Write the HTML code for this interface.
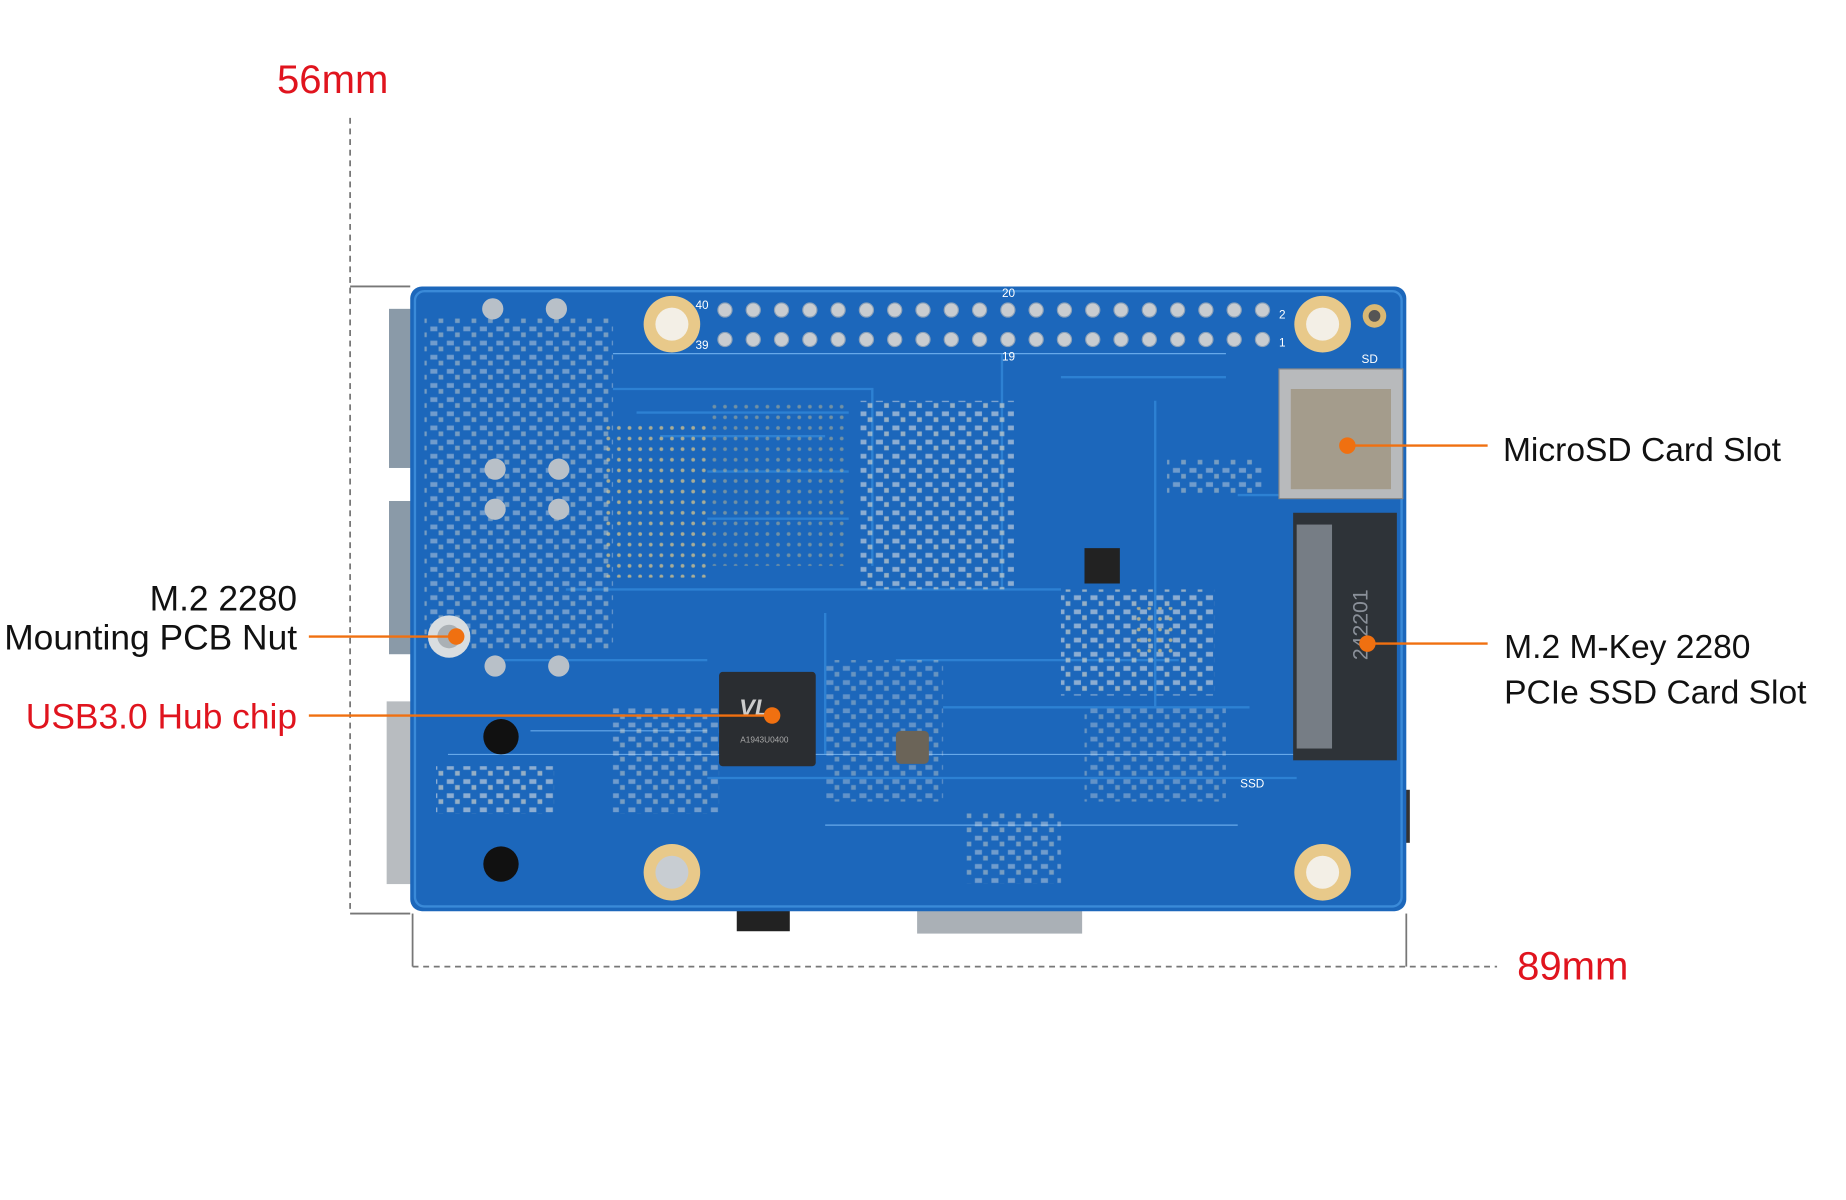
<!DOCTYPE html>
<html><head><meta charset="utf-8"><style>
html,body{margin:0;padding:0;background:#fff;width:1846px;height:1200px;overflow:hidden}
svg{display:block}
text{font-family:"Liberation Sans",Arial,sans-serif}
</style></head><body>
<svg width="1846" height="1200" viewBox="0 0 1566 1018" xmlns="http://www.w3.org/2000/svg">
<defs>
<pattern id="comp" width="14" height="12" patternUnits="userSpaceOnUse">
<rect x="1" y="1" width="6" height="4" fill="#d8dde2"/><rect x="8" y="6" width="4" height="4" fill="#e6e0cc"/>
</pattern>
<pattern id="dots" width="9" height="9" patternUnits="userSpaceOnUse">
<circle cx="3" cy="3" r="1.6" fill="#d9c58a"/>
</pattern>
</defs>
<rect width="1566" height="1018" fill="#fff"/>
<text x="235" y="79" font-size="34" fill="#e0141e">56mm</text>
<line x1="297" y1="100" x2="297" y2="775" stroke="#777" stroke-width="1.5" stroke-dasharray="5,4"/>
<line x1="297" y1="243" x2="348" y2="243" stroke="#777" stroke-width="1.5"/>
<line x1="297" y1="775" x2="348" y2="775" stroke="#777" stroke-width="1.5"/>
<line x1="350" y1="775" x2="350" y2="820" stroke="#777" stroke-width="1.5"/>
<line x1="1193" y1="775" x2="1193" y2="820" stroke="#777" stroke-width="1.5"/>
<line x1="350" y1="820" x2="1270" y2="820" stroke="#777" stroke-width="1.5" stroke-dasharray="5,4"/>
<text x="1287" y="831" font-size="34" fill="#e0141e">89mm</text>

<rect x="330" y="262" width="22" height="135" fill="#8a9aa8"/>
<rect x="330" y="425" width="22" height="130" fill="#8a9aa8"/>
<rect x="328" y="595" width="24" height="155" fill="#b8bcc0"/>
<rect x="625" y="770" width="45" height="20" fill="#222"/>
<rect x="778" y="770" width="140" height="22" fill="#aab0b6"/>
<rect x="1182" y="670" width="14" height="45" fill="#333"/>

<rect x="348" y="243" width="845" height="530" rx="10" fill="#1c67bb"/>
<rect x="352" y="247" width="837" height="522" rx="8" fill="none" stroke="#3a8ad8" stroke-width="2"/>
<g stroke="#2f84d6" stroke-width="2" fill="none" opacity="0.9">
<path d="M520 330 H740 V480 M540 350 H720 M560 370 H700 M600 400 H720 M600 440 H720 M480 500 H900 M700 520 V640 M760 560 H1000 M800 600 H1060 M600 660 H1100 M420 560 H600 M850 300 V500 M900 320 H1040 M980 340 V600 M1050 420 H1180"/>
<path d="M520 300 H1040 M700 700 H1050 M450 620 H600 M380 640 H1180" stroke="#6fb0ee" stroke-width="1"/>
</g>
<g opacity="0.75">
<rect x="510" y="360" width="90" height="130" fill="url(#dots)"/>
<rect x="600" y="340" width="120" height="140" fill="url(#dots)" opacity="0.6"/>
<rect x="730" y="340" width="130" height="160" fill="url(#comp)" opacity="0.8"/>
<rect x="900" y="500" width="130" height="90" fill="url(#comp)" opacity="0.8"/>
<rect x="960" y="515" width="40" height="40" fill="url(#dots)"/>
<rect x="360" y="270" width="160" height="280" fill="url(#comp)" opacity="0.6"/>
<rect x="370" y="650" width="100" height="40" fill="url(#comp)" opacity="0.8"/>
<rect x="520" y="600" width="90" height="90" fill="url(#comp)" opacity="0.6"/>
<rect x="700" y="560" width="100" height="120" fill="url(#comp)" opacity="0.5"/>
<rect x="820" y="690" width="80" height="60" fill="url(#comp)" opacity="0.6"/>
<rect x="920" y="600" width="120" height="80" fill="url(#comp)" opacity="0.5"/>
<rect x="990" y="390" width="80" height="30" fill="url(#comp)" opacity="0.6"/>
</g>
<g>
<circle cx="570" cy="275" r="24" fill="#e8c98a"/><circle cx="570" cy="275" r="14" fill="#f3efe6"/>
<circle cx="1122" cy="275" r="24" fill="#e8c98a"/><circle cx="1122" cy="275" r="14" fill="#f3efe6"/>
<circle cx="570" cy="740" r="24" fill="#e8c98a"/><circle cx="570" cy="740" r="14" fill="#c8cdd2"/>
<circle cx="1122" cy="740" r="24" fill="#e8c98a"/><circle cx="1122" cy="740" r="14" fill="#f3efe6"/>
<circle cx="1166" cy="268" r="10" fill="#d9b873"/><circle cx="1166" cy="268" r="5" fill="#555"/>
</g>
<g fill="#c8ccd0" stroke="#8aa0b8" stroke-width="1">
<circle cx="615" cy="263" r="6"/><circle cx="639" cy="263" r="6"/><circle cx="663" cy="263" r="6"/><circle cx="687" cy="263" r="6"/><circle cx="711" cy="263" r="6"/><circle cx="735" cy="263" r="6"/><circle cx="759" cy="263" r="6"/><circle cx="783" cy="263" r="6"/><circle cx="807" cy="263" r="6"/><circle cx="831" cy="263" r="6"/><circle cx="855" cy="263" r="6"/><circle cx="879" cy="263" r="6"/><circle cx="903" cy="263" r="6"/><circle cx="927" cy="263" r="6"/><circle cx="951" cy="263" r="6"/><circle cx="975" cy="263" r="6"/><circle cx="999" cy="263" r="6"/><circle cx="1023" cy="263" r="6"/><circle cx="1047" cy="263" r="6"/><circle cx="1071" cy="263" r="6"/>
<circle cx="615" cy="288" r="6"/><circle cx="639" cy="288" r="6"/><circle cx="663" cy="288" r="6"/><circle cx="687" cy="288" r="6"/><circle cx="711" cy="288" r="6"/><circle cx="735" cy="288" r="6"/><circle cx="759" cy="288" r="6"/><circle cx="783" cy="288" r="6"/><circle cx="807" cy="288" r="6"/><circle cx="831" cy="288" r="6"/><circle cx="855" cy="288" r="6"/><circle cx="879" cy="288" r="6"/><circle cx="903" cy="288" r="6"/><circle cx="927" cy="288" r="6"/><circle cx="951" cy="288" r="6"/><circle cx="975" cy="288" r="6"/><circle cx="999" cy="288" r="6"/><circle cx="1023" cy="288" r="6"/><circle cx="1047" cy="288" r="6"/><circle cx="1071" cy="288" r="6"/>
</g>
<g fill="#fff" font-size="10"><text x="590" y="262">40</text><text x="590" y="296">39</text><text x="850" y="252">20</text><text x="850" y="306">19</text><text x="1085" y="270">2</text><text x="1085" y="294">1</text><text x="1155" y="308">SD</text><text x="1052" y="668">SSD</text></g>
<g fill="#b8c0c8">
<circle cx="418" cy="262" r="9"/><circle cx="472" cy="262" r="9"/><circle cx="420" cy="398" r="9"/><circle cx="474" cy="398" r="9"/><circle cx="420" cy="432" r="9"/><circle cx="474" cy="432" r="9"/><circle cx="420" cy="565" r="9"/><circle cx="474" cy="565" r="9"/>
</g>
<circle cx="381" cy="540" r="18" fill="#d9dde0"/><circle cx="381" cy="540" r="10" fill="#aab0b5"/>
<circle cx="425" cy="625" r="15" fill="#111"/><circle cx="425" cy="733" r="15" fill="#111"/>
<rect x="610" y="570" width="82" height="80" rx="3" fill="#2a2d31"/>
<text x="627" y="607" font-size="20" font-weight="bold" fill="#ccc" font-style="italic">VL</text>
<text x="628" y="630" font-size="7" fill="#aaa">A1943U0400</text>
<rect x="760" y="620" width="28" height="28" rx="4" fill="#6b6458"/>
<rect x="920" y="465" width="30" height="30" fill="#222"/>
<rect x="1085" y="313" width="105" height="110" fill="#b8babc" stroke="#888"/>
<rect x="1095" y="330" width="85" height="85" fill="#a49c8c"/>
<rect x="1097" y="435" width="88" height="210" fill="#2e3338"/>
<rect x="1100" y="445" width="30" height="190" fill="#767d85"/>
<text x="1160" y="560" font-size="18" fill="#8a9099" transform="rotate(-90 1160 560)" font-family="Liberation Serif">242201</text>

<g stroke="#f07010" stroke-width="2">
<line x1="1143" y1="378" x2="1262" y2="378"/>
<line x1="1160" y1="546" x2="1262" y2="546"/>
<line x1="262" y1="540" x2="387" y2="540"/>
<line x1="262" y1="607" x2="655" y2="607"/>
</g>
<g fill="#f07010">
<circle cx="1143" cy="378" r="7"/><circle cx="1160" cy="546" r="7"/><circle cx="387" cy="540" r="7"/><circle cx="655" cy="607" r="7"/>
</g>
<g font-size="28.5" fill="#111">
<text x="1275" y="391">MicroSD Card Slot</text>
<text x="1276" y="558">M.2 M-Key 2280</text>
<text x="1276" y="597">PCIe SSD Card Slot</text>
</g>
<g font-size="30" fill="#111">
<text x="252" y="518" text-anchor="end">M.2 2280</text>
<text x="252" y="551" text-anchor="end">Mounting PCB Nut</text>
<text x="252" y="618" text-anchor="end" fill="#e0141e">USB3.0 Hub chip</text>
</g>
</svg>
</body></html>
